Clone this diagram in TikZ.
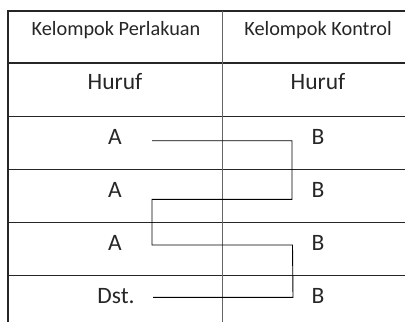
\documentclass[tikz,border=0pt]{standalone}
\usepackage{fontspec}
\setmainfont{Carlito}
\begin{document}
\begin{tikzpicture}[x=1pt,y=-1pt,
  grid/.style={draw=black!85,line width=1.1pt},
  midline/.style={draw=black!60,line width=1.5pt},
  head/.style={font=\fontsize{20.3}{22}\selectfont,text=black!85,inner sep=0pt},
  cell/.style={font=\fontsize{23.5}{25}\selectfont,text=black!85,inner sep=0pt},
  link/.style={draw=black,line width=0.9pt}]
\useasboundingbox (0,0) rectangle (405,322);
% table rules
\draw[grid] (405,11) -- (8,11) -- (8,322);
\foreach \y in {63,116.5,169.5,222.5,275.5}
  \draw[grid] (8,\y) -- (405,\y);
\draw[midline] (222.7,11) -- (222.7,322);
% headers
\node[head] (h1) at (116,30) {Kelompok Perlakuan};
\node[head] (h2) at (318,30) {Kelompok Kontrol};
\node[cell] (u1) at (115,82) {Huruf};
\node[cell] (u2) at (318,82) {Huruf};
% rows
\node[cell] (a1) at (115,137) {A};
\node[cell] (b1) at (318,137) {B};
\node[cell] (a2) at (115,190) {A};
\node[cell] (b2) at (318,190) {B};
\node[cell] (a3) at (115,243) {A};
\node[cell] (b3) at (318,243) {B};
\node[cell] (a4) at (116,296) {Dst.};
\node[cell] (b4) at (318,296) {B};
% pairing path
\coordinate (p1) at (152,140.7);
\coordinate (p2) at (292,140.7);
\coordinate (p3) at (292,199.3);
\coordinate (p4) at (152,199.3);
\coordinate (p5) at (152,245);
\coordinate (p6) at (292.5,245);
\coordinate (p7) at (293,297.3);
\coordinate (p8) at (153,297.3);
\draw[link] (p1) -- (p2) -- (p3) -- (p4) -- (p5) -- (p6) -- (p7) -- (p8);
\end{tikzpicture}
\end{document}
